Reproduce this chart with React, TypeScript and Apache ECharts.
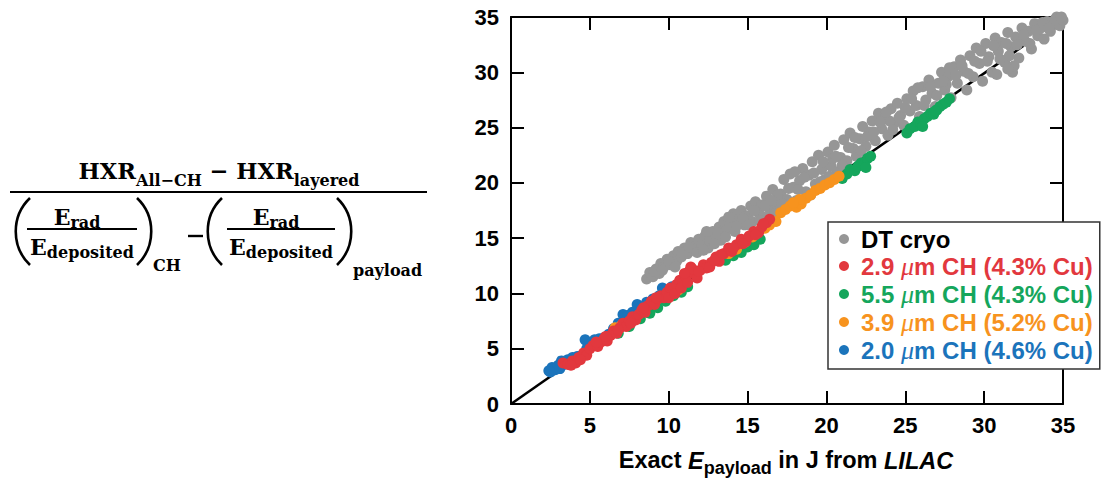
import React, { useEffect, useRef } from "react";
import * as echarts from "echarts";

// ---------- data ----------
const axisMin = 0;
const axisMax = 35;
const axisStep = 5;

const legendNames = [
  "DT cryo",
  "2.9 μm CH (4.3% Cu)",
  "5.5 μm CH (4.3% Cu)",
  "3.9 μm CH (5.2% Cu)",
  "2.0 μm CH (4.6% Cu)",
];

const dtCryo: number[][] = [
  [8.6, 11.3], [8.8, 11.9], [9.0, 11.5], [9.2, 12.2], [9.4, 11.8], [9.5, 12.7], [9.7, 12.4], [9.9, 13.1],
  [10.1, 12.6], [10.3, 13.4], [10.5, 12.9], [10.6, 13.8], [10.8, 13.3], [11.0, 14.1], [11.2, 13.6], [11.4, 14.6],
  [11.5, 13.9], [11.7, 14.3], [11.9, 14.9], [12.1, 14.4], [12.3, 15.2], [12.5, 14.1], [12.6, 14.8], [12.8, 15.6],
  [13.0, 15.1], [13.2, 16.0], [13.4, 15.4], [13.5, 16.5], [13.7, 15.8], [13.9, 16.3], [14.1, 17.2], [14.2, 15.6],
  [14.4, 16.7], [14.6, 17.5], [14.8, 16.2], [15.0, 17.0], [15.2, 17.9], [15.3, 16.5], [15.5, 18.3], [15.7, 17.3],
  [15.9, 18.0], [16.0, 16.9], [16.2, 18.8], [16.4, 17.6], [16.6, 19.4], [16.8, 18.2], [17.0, 17.5], [17.1, 19.0],
  [17.3, 20.3], [17.5, 18.5], [17.7, 20.8], [17.9, 19.6], [18.1, 18.4], [18.3, 20.2], [18.5, 21.3], [18.7, 19.2],
  [18.9, 20.7], [19.1, 21.9], [19.3, 19.9], [19.5, 22.5], [19.7, 21.2], [19.9, 20.3], [20.1, 22.8], [20.3, 21.5],
  [20.5, 23.4], [20.7, 21.0], [20.9, 22.3], [21.1, 23.9], [21.3, 22.0], [21.5, 24.5], [21.7, 23.1], [21.9, 22.4],
  [22.1, 24.0], [22.3, 25.1], [22.5, 23.3], [22.7, 24.6], [22.9, 25.6], [23.1, 23.8], [23.3, 26.3], [23.5, 24.9],
  [23.7, 25.8], [23.9, 24.3], [24.1, 26.7], [24.3, 25.4], [24.5, 27.2], [24.7, 26.1], [24.9, 25.2], [25.1, 27.6],
  [25.3, 26.5], [25.5, 28.3], [25.7, 27.0], [25.9, 26.0], [26.1, 28.7], [26.3, 27.5], [26.5, 29.3], [26.7, 28.1],
  [26.9, 26.9], [27.1, 29.0], [27.3, 30.0], [27.5, 28.4], [27.7, 29.6], [27.9, 27.7], [28.1, 30.5], [28.3, 29.0],
  [28.5, 31.1], [28.7, 30.1], [28.9, 28.4], [29.1, 31.5], [29.3, 29.6], [29.5, 32.2], [29.7, 30.8], [29.9, 29.2],
  [30.1, 32.6], [30.3, 31.4], [30.5, 30.0], [30.7, 33.1], [30.9, 31.9], [31.1, 32.7], [31.3, 30.9], [31.5, 33.6],
  [31.7, 32.3], [31.8, 30.0], [32.0, 33.2], [32.2, 31.3], [32.4, 34.0], [32.6, 32.8], [32.8, 33.7], [33.0, 32.1],
  [33.2, 34.4], [33.4, 33.3], [33.6, 34.0], [33.8, 33.0], [34.0, 34.6], [34.2, 33.7], [34.4, 34.3], [34.6, 35.0],
  [34.8, 34.2], [35.0, 34.7], [31.9, 30.6], [27.6, 28.9], [24.0, 25.6], [20.4, 22.2], [16.9, 18.9], [13.3, 14.8],
  [9.1, 12.0], [9.6, 12.1], [10.0, 12.9], [10.4, 12.4], [10.9, 13.7], [11.3, 14.2], [11.8, 13.7], [12.2, 13.9],
  [12.4, 15.6], [12.9, 14.5], [13.1, 15.5], [13.6, 15.1], [13.8, 16.9], [14.3, 16.1], [14.7, 16.8], [15.1, 16.2],
  [15.4, 17.5], [15.8, 16.6], [16.1, 17.9], [16.5, 18.4], [16.7, 17.2], [17.2, 18.1], [17.6, 19.5], [18.0, 21.0],
  [18.2, 19.4], [18.6, 20.5], [19.0, 18.9], [19.2, 20.9], [19.6, 20.1], [19.8, 21.9], [20.2, 20.6], [20.6, 22.4],
  [21.0, 21.6], [21.4, 23.2], [21.8, 24.1], [22.2, 22.9], [22.6, 24.2], [23.0, 24.6], [23.4, 25.5], [23.8, 26.4],
  [24.2, 24.8], [24.6, 25.9], [25.0, 26.8], [25.4, 27.6], [25.8, 28.6], [26.2, 27.0], [26.6, 28.7], [27.0, 27.9],
  [27.4, 29.2], [27.8, 30.4], [28.2, 29.7], [28.6, 30.6], [29.0, 29.9], [29.4, 31.0], [29.8, 31.9], [30.2, 31.0],
  [30.6, 32.4], [31.0, 31.2], [31.4, 32.6], [31.6, 31.5], [32.1, 32.5], [32.5, 33.4], [32.9, 32.6], [33.3, 33.8],
  [33.7, 34.5], [34.1, 34.0], [34.5, 34.8], [34.9, 35.0], [30.8, 29.8], [31.5, 30.3],
];

const ch29: number[][] = [
  [3.3, 3.7], [3.6, 3.6], [3.9, 3.9], [4.1, 3.7], [4.3, 4.2], [4.6, 4.6], [4.8, 4.4], [5.0, 5.0],
  [5.2, 5.3], [5.5, 5.2], [5.7, 5.6], [5.9, 5.9], [6.1, 5.7], [6.3, 6.2], [6.5, 6.6], [6.7, 6.4],
  [6.9, 6.9], [7.1, 7.3], [7.3, 7.0], [7.5, 7.5], [7.7, 7.9], [7.9, 7.6], [8.1, 8.1], [8.3, 8.5],
  [8.5, 8.3], [8.7, 8.9], [8.9, 9.3], [9.1, 9.0], [9.3, 9.5], [9.5, 9.8], [9.7, 9.6], [9.9, 10.1],
  [10.1, 10.5], [10.3, 10.3], [10.5, 10.8], [10.7, 11.2], [10.9, 11.0], [11.1, 11.5], [11.3, 12.0], [11.4, 12.4],
  [11.6, 11.8], [11.8, 11.4], [12.0, 12.1], [12.2, 12.6], [12.4, 12.3], [12.7, 12.8], [13.0, 13.3], [13.2, 12.9],
  [13.5, 13.6], [13.8, 14.1], [14.0, 13.8], [14.3, 14.4], [14.6, 14.9], [14.9, 14.7], [15.1, 15.2], [15.4, 15.6],
  [15.7, 15.5], [15.9, 16.0], [16.2, 16.4], [16.4, 16.7],
  [10.0, 9.6], [10.4, 10.0], [10.8, 10.5], [11.2, 11.0], [11.5, 12.2], [11.9, 12.0], [9.2, 9.6], [8.4, 8.7],
  [7.6, 7.3], [6.8, 6.7], [6.0, 6.1], [5.4, 5.6], [4.4, 4.0], [3.8, 3.5], [12.6, 12.4], [13.3, 13.5],
  [14.1, 14.1], [14.7, 14.5], [15.5, 15.3], [16.0, 16.3], [12.9, 13.0], [11.0, 11.8],
];

const ch55: number[][] = [
  [6.8, 6.4], [7.5, 7.0], [8.2, 7.7], [8.8, 8.2], [9.3, 8.7], [9.8, 9.3], [10.3, 9.8], [10.8, 10.1],
  [11.2, 10.6], [13.6, 13.0], [14.1, 13.4], [14.6, 13.7], [15.0, 14.2], [15.4, 14.4], [15.8, 14.9],
  [21.0, 20.4], [21.3, 20.8], [21.5, 21.2], [21.8, 21.1], [22.0, 21.5], [22.2, 21.8], [22.4, 21.7],
  [22.6, 22.2], [22.8, 22.4], [22.5, 21.4],
  [25.1, 24.5], [25.3, 24.9], [25.6, 25.1], [25.8, 25.5], [26.0, 25.4], [26.2, 25.8], [26.4, 26.0],
  [26.6, 26.3], [26.8, 26.2], [27.0, 26.6], [27.2, 26.9], [27.4, 27.1], [27.6, 27.3], [27.8, 27.6],
  [26.1, 25.1], [26.9, 26.5],
];

const ch39: number[][] = [
  [6.6, 6.9], [7.0, 7.1], [10.2, 10.0], [10.6, 10.3], [13.8, 13.6], [14.3, 14.0], [14.8, 14.6],
  [15.3, 15.1], [15.7, 15.6], [16.1, 15.9], [16.4, 16.2], [16.8, 16.5], [17.1, 17.3], [17.4, 17.6],
  [17.7, 17.9], [18.1, 17.8], [18.4, 18.1], [18.7, 18.6], [19.0, 18.9], [19.3, 19.3], [19.6, 19.5],
  [19.9, 19.8], [20.2, 20.0], [20.5, 20.3], [20.8, 20.6], [18.3, 18.5], [17.9, 18.2],
];

const ch20: number[][] = [
  [2.4, 3.0], [2.6, 3.3], [2.8, 3.1], [3.0, 3.5], [3.2, 3.9], [3.4, 3.6], [3.6, 4.0], [3.9, 4.2],
  [4.2, 4.3], [4.5, 4.4], [4.7, 5.8], [4.8, 5.0], [5.1, 5.5], [5.3, 5.8], [5.6, 5.9], [5.9, 6.0],
  [6.2, 6.3], [6.5, 6.8], [6.8, 7.3], [7.1, 8.1], [7.4, 8.0], [7.7, 8.3], [8.0, 9.0], [8.3, 8.8],
  [8.6, 9.2], [9.0, 9.5], [9.4, 9.8], [9.6, 10.5], [9.8, 10.3], [10.2, 10.6], [2.5, 2.9], [3.1, 3.2],
];

const fitLine: number[][] = [
  [0, 0],
  [32.5, 32.4],
];

// ---------- styles ----------
const colors = {
  gray: "#969696",
  red: "#e2383e",
  green: "#15a65c",
  orange: "#f7931e",
  blue: "#1b74bb",
};

const SANS = "'Liberation Sans', Arial, sans-serif";
const SERIF = "'DejaVu Serif', serif";

export default function App() {
  const ref = useRef<HTMLDivElement>(null);

  useEffect(() => {
    if (!ref.current) return;
    const chart = echarts.init(ref.current, undefined, { renderer: "svg" });

    const axisCommon = {
      type: "value" as const,
      min: axisMin,
      max: axisMax,
      interval: axisStep,
      axisLine: { show: true, onZero: false, lineStyle: { color: "#000", width: 2 } },
      axisTick: { show: true, inside: true, length: 13, lineStyle: { color: "#000", width: 2 } },
      splitLine: { show: false },
    };

    const labelStyle = {
      fontFamily: SANS,
      fontWeight: "bold" as const,
      fontSize: 22,
      color: "#000",
    };

    const muRich = (color: string) => ({
      mu: {
        fontFamily: "'Liberation Serif', serif",
        fontStyle: "italic",
        fontWeight: "normal",
        fontSize: 26,
        color,
        lineHeight: 24,
      },
    });

    const legendColors = ["#000", colors.red, colors.green, colors.orange, colors.blue];

    const scatter = (name: string, data: number[][], color: string) => ({
      type: "scatter" as const,
      name,
      data,
      symbol: "circle",
      symbolSize: 11,
      itemStyle: { color, opacity: 1 },
      clip: false,
      z: 2,
    });

    const F = (size: number, extra: any = {}) => ({
      fontFamily: SERIF,
      fontWeight: "bold",
      fontSize: size,
      fill: "#000",
      ...extra,
    });

    const fracRich = (mainPad: number) => ({
      m: F(22, { verticalAlign: "bottom", padding: [0, 0, mainPad, 0] }),
      s: F(16, { verticalAlign: "bottom" }),
    });

    const paren = (x0: number, xc: number) => ({
      type: "bezierCurve",
      shape: { x1: x0, y1: 198, cpx1: xc, cpy1: 216, cpx2: xc, cpy2: 247, x2: x0, y2: 265 },
      style: { stroke: "#000", lineWidth: 2.6, fill: null },
    });

    const hline = (x1: number, x2: number, y: number, w: number) => ({
      type: "line",
      shape: { x1, y1: y, x2, y2: y },
      style: { stroke: "#000", lineWidth: w },
    });

    chart.setOption({
      animation: false,
      backgroundColor: "#fff",
      grid: { left: 511, top: 17, width: 552, height: 387, containLabel: false },
      xAxis: [
        {
          ...axisCommon,
          position: "bottom",
          axisLabel: { ...labelStyle, margin: 10 },
        },
        {
          ...axisCommon,
          position: "top",
          axisLabel: { show: false },
        },
      ],
      yAxis: [
        {
          ...axisCommon,
          position: "left",
          axisLabel: { ...labelStyle, margin: 12 },
        },
        {
          ...axisCommon,
          position: "right",
          axisLabel: { show: false },
        },
      ],
      legend: {
        orient: "vertical",
        left: 828,
        top: 222,
        padding: [5, 7, 6, 11],
        itemGap: 2,
        itemWidth: 24,
        itemHeight: 10,
        icon: "circle",
        borderColor: "#333",
        borderWidth: 1.5,
        backgroundColor: "#fff",
        borderRadius: 0,
        formatter: (name: string) => name.replace("μ", "{mu|μ}"),
        textStyle: { ...labelStyle, fontSize: 24, lineHeight: 24, rich: muRich("#000") },
        data: legendNames.map((n, i) => ({
          name: n,
          textStyle: { color: legendColors[i], rich: muRich(legendColors[i]) },
        })),
      },
      series: [
        scatter(legendNames[0], dtCryo, colors.gray),
        {
          type: "line",
          name: "fit",
          data: fitLine,
          showSymbol: false,
          symbol: "none",
          lineStyle: { color: "#000", width: 2.5 },
          silent: true,
          z: 2,
        },
        scatter(legendNames[4], ch20, colors.blue),
        scatter(legendNames[2], ch55, colors.green),
        scatter(legendNames[3], ch39, colors.orange),
        scatter(legendNames[1], ch29, colors.red),
      ],
      graphic: [
        // axis name
        {
          type: "text",
          x: 786,
          y: 477,
          style: {
            text: "{a|Exact }{i|E}{s|payload}{a| in J from }{i|LILAC}",
            textAlign: "center",
            textVerticalAlign: "bottom",
            rich: {
              a: { fontFamily: SANS, fontWeight: "bold", fontSize: 23.5, fill: "#000", verticalAlign: "bottom", padding: [0, 0, 5, 0] },
              i: { fontFamily: SANS, fontWeight: "bold", fontStyle: "italic", fontSize: 23.5, fill: "#000", verticalAlign: "bottom", padding: [0, 0, 5, 0] },
              s: { fontFamily: SANS, fontWeight: "bold", fontSize: 18, fill: "#000", verticalAlign: "bottom" },
            },
          },
        },
        // formula numerator
        {
          type: "text",
          x: 219,
          y: 188,
          style: {
            text: "{m|HXR}{s|All−CH}{m| − HXR}{s|layered}",
            textAlign: "center",
            textVerticalAlign: "bottom",
            rich: {
              m: F(22.5, { verticalAlign: "bottom", padding: [0, 0, 6, 0] }),
              s: F(16, { verticalAlign: "bottom" }),
            },
          },
        },
        hline(10, 427, 192, 2),
        paren(30, 11),
        paren(137, 156),
        paren(222, 203),
        paren(337, 356),
        {
          type: "text",
          x: 77,
          y: 230,
          style: { text: "{m|E}{s|rad}", textAlign: "center", textVerticalAlign: "bottom", rich: fracRich(2) },
        },
        hline(27, 137, 229, 1.8),
        {
          type: "text",
          x: 82,
          y: 260,
          style: { text: "{m|E}{s|deposited}", textAlign: "center", textVerticalAlign: "bottom", rich: fracRich(2) },
        },
        {
          type: "text",
          x: 153,
          y: 273,
          style: { text: "{s|CH}", textAlign: "left", textVerticalAlign: "bottom", rich: fracRich(0) },
        },
        hline(188, 203, 236, 2.4),
        {
          type: "text",
          x: 276,
          y: 230,
          style: { text: "{m|E}{s|rad}", textAlign: "center", textVerticalAlign: "bottom", rich: fracRich(2) },
        },
        hline(227, 335, 229, 1.8),
        {
          type: "text",
          x: 281,
          y: 260,
          style: { text: "{m|E}{s|deposited}", textAlign: "center", textVerticalAlign: "bottom", rich: fracRich(2) },
        },
        {
          type: "text",
          x: 353,
          y: 278,
          style: { text: "{s|payload}", textAlign: "left", textVerticalAlign: "bottom", rich: fracRich(0) },
        },
      ],
    });

    return () => chart.dispose();
  }, []);

  return (
    <div
      ref={ref}
      style={{ position: "fixed", left: 0, top: 0, width: 1102, height: 483, background: "#fff" }}
    />
  );
}
